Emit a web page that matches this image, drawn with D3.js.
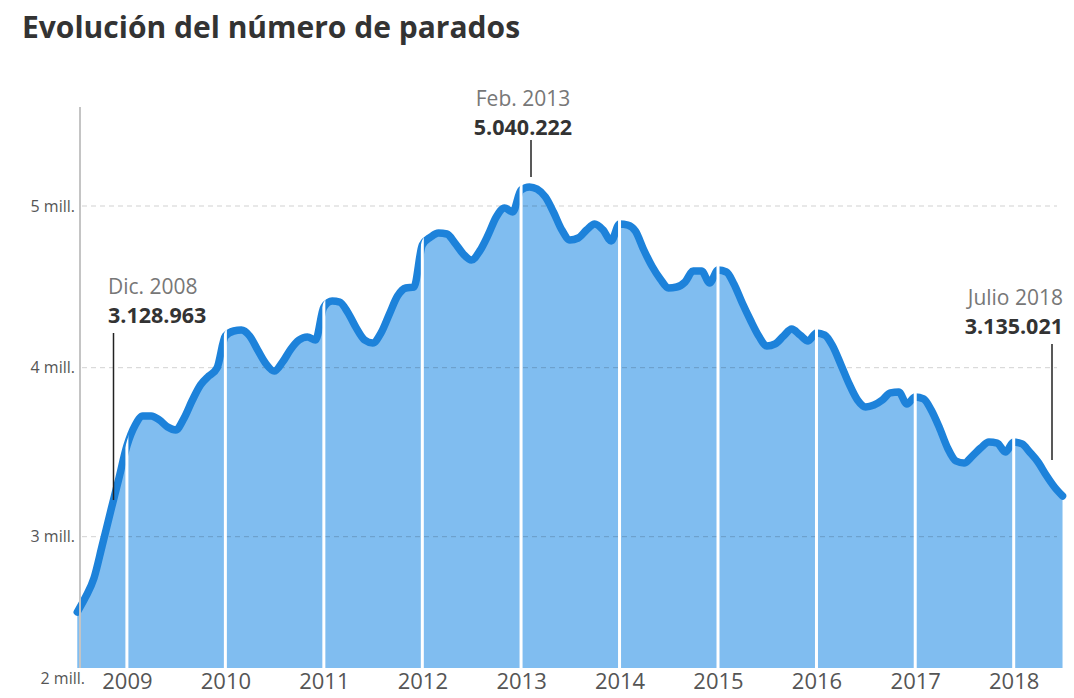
<!DOCTYPE html>
<html><head><meta charset="utf-8">
<script src="https://cdn.jsdelivr.net/npm/d3@7"></script>
<style>
body{margin:0;background:#fff;}
svg{display:block;font-family:"Open Sans",sans-serif;}
</style>
</head><body>
<svg id="chart" width="1074" height="698"></svg>
<script>
// ---------------- data ----------------
const title = "Evolución del número de parados";
const firstMonth = "2008-07";              // first monthly observation
// registered unemployed, millions, read from the picture (Jul 2008 – Jul 2018)
const values2008 = [2.426, 2.541, 2.685, 2.929, 3.146, 3.336];
const values2009 = [3.537, 3.661, 3.714, 3.714, 3.691, 3.649, 3.631, 3.702, 3.809, 3.898, 3.951, 3.998];
const values2010 = [4.196, 4.227, 4.233, 4.196, 4.109, 4.023, 3.980, 4.035, 4.116, 4.171, 4.190, 4.171];
const values2011 = [4.375, 4.412, 4.406, 4.338, 4.246, 4.171, 4.153, 4.215, 4.332, 4.443, 4.493, 4.499];
const values2012 = [4.759, 4.808, 4.833, 4.827, 4.771, 4.703, 4.666, 4.722, 4.821, 4.932, 4.988, 4.963];
const values2013 = [5.099, 5.118, 5.105, 5.056, 4.963, 4.852, 4.790, 4.802, 4.852, 4.889, 4.852, 4.784];
const values2014 = [4.889, 4.882, 4.845, 4.728, 4.629, 4.549, 4.493, 4.499, 4.530, 4.598, 4.598, 4.524];
const values2015 = [4.604, 4.592, 4.518, 4.400, 4.295, 4.196, 4.134, 4.147, 4.196, 4.239, 4.202, 4.165];
const values2016 = [4.215, 4.202, 4.134, 4.017, 3.904, 3.809, 3.768, 3.779, 3.809, 3.851, 3.856, 3.785];
const values2017 = [3.827, 3.815, 3.750, 3.643, 3.525, 3.448, 3.436, 3.478, 3.525, 3.560, 3.554, 3.501];
const values2018 = [3.560, 3.549, 3.501, 3.442, 3.365, 3.294, 3.241];

const yTickValues = [2, 3, 4, 5];           // millions
const gridValues = [3, 4, 5];
const yearTicks = [2009, 2010, 2011, 2012, 2013, 2014, 2015, 2016, 2017, 2018];

const annotMonths = ["2008-12", "2013-02", "2018-07"];
const annotLabels = ["Dic. 2008", "Feb. 2013", "Julio 2018"];
const annotValues = ["3.128.963", "5.040.222", "3.135.021"];

// ---------------- build ----------------
const allValues = [].concat(values2008, values2009, values2010, values2011, values2012,
  values2013, values2014, values2015, values2016, values2017, values2018);
const parse = d3.timeParse("%Y-%m");
const start = parse(firstMonth);
const data = allValues.map((v, i) => ({ date: d3.timeMonth.offset(start, i), value: v * 1e6 }));

const svg = d3.select("#chart");

const x = d3.scaleTime()
  .domain([new Date(2009, 0, 1), new Date(2018, 0, 1)])
  .range([126.9, 1013.7]);
const y = d3.scaleLinear()
  .domain([2e6, 3e6, 4e6, 5e6, 6e6])
  .range([668, 536.7, 367.7, 206, 44.3]);

// title
svg.append("text")
  .attr("x", 22).attr("y", 38)
  .attr("font-size", 30).attr("font-weight", 700)
  .attr("fill", "#333")
  .text(title);

const curve = d3.curveMonotoneX;
const area = d3.area().curve(curve)
  .x(d => x(d.date)).y0(y(2e6)).y1(d => y(d.value));
const line = d3.line().curve(curve)
  .x(d => x(d.date)).y(d => y(d.value));

// clip for the white year separators (area + line thickness)
svg.append("clipPath").attr("id", "sepClip")
  .append("path")
  .attr("d", d3.area().curve(curve).x(d => x(d.date)).y0(y(2e6)).y1(d => y(d.value) - 5)(data));

svg.append("path").datum(data)
  .attr("d", area)
  .attr("fill", "#80bdf0");

// gridlines
svg.append("g").selectAll("line").data(gridValues).join("line")
  .attr("x1", 82).attr("x2", 1057)
  .attr("y1", d => y(d * 1e6)).attr("y2", d => y(d * 1e6))
  .attr("stroke", "#000").attr("stroke-opacity", 0.18)
  .attr("stroke-width", 1).attr("stroke-dasharray", "5,4");

// line
svg.append("path").datum(data)
  .attr("d", line)
  .attr("fill", "none")
  .attr("stroke", "#1d82da")
  .attr("stroke-width", 7.5)
  .attr("stroke-linejoin", "round")
  .attr("stroke-linecap", "round");

// white year separators
svg.append("g").attr("clip-path", "url(#sepClip)")
  .selectAll("line").data(yearTicks).join("line")
  .attr("x1", d => x(new Date(d, 0, 1))).attr("x2", d => x(new Date(d, 0, 1)))
  .attr("y1", y(2e6)).attr("y2", 0)
  .attr("stroke", "#fff").attr("stroke-width", 3);

// y axis
const yAxis = svg.append("g").attr("transform", "translate(80,0)")
  .call(d3.axisLeft(y).tickValues(yTickValues.map(v => v * 1e6))
    .tickFormat(d => (d / 1e6) + " mill.").tickSize(0).tickPadding(5));
yAxis.select(".domain").remove();
yAxis.selectAll("text")
  .attr("font-family", "'Open Sans', sans-serif")
  .attr("font-size", 16).attr("fill", "#555");
yAxis.selectAll(".tick").filter(d => d === 2e6).select("text")
  .attr("x", 5).attr("dy", 0).attr("y", 15);

svg.append("line")
  .attr("x1", 80).attr("x2", 80).attr("y1", 107).attr("y2", y(2e6))
  .attr("stroke", "#c4c4c4").attr("stroke-width", 2);

// x axis
const xAxis = svg.append("g").attr("transform", `translate(0,${y(2e6)})`)
  .call(d3.axisBottom(x).tickValues(yearTicks.map(yr => new Date(yr, 0, 1)))
    .tickFormat(d3.timeFormat("%Y")).tickSize(0).tickPadding(5.5));
xAxis.select(".domain").remove();
xAxis.selectAll("text")
  .attr("font-family", "'Open Sans', sans-serif")
  .attr("font-size", 22).attr("fill", "#555");

// annotations
const annotLayout = [
  { tx: 108, anchor: "start", ty: 294, lx: 113.5, l1: 333, l2: 500 },
  { tx: 523, anchor: "middle", ty: 106, lx: 531, l1: 140, l2: 177 },
  { tx: 1063, anchor: "end", ty: 305, lx: 1052, l1: 344, l2: 460 }
];
const annG = svg.append("g").selectAll("g").data(annotMonths).join("g");
annG.append("text")
  .attr("x", (d, i) => annotLayout[i].tx).attr("y", (d, i) => annotLayout[i].ty)
  .attr("text-anchor", (d, i) => annotLayout[i].anchor)
  .attr("font-size", 21).attr("fill", "#777")
  .text((d, i) => annotLabels[i]);
annG.append("text")
  .attr("x", (d, i) => annotLayout[i].tx).attr("y", (d, i) => annotLayout[i].ty + 29)
  .attr("text-anchor", (d, i) => annotLayout[i].anchor)
  .attr("font-size", 21.5).attr("font-weight", 700).attr("fill", "#333")
  .text((d, i) => annotValues[i]);
annG.append("line")
  .attr("x1", (d, i) => annotLayout[i].lx).attr("x2", (d, i) => annotLayout[i].lx)
  .attr("y1", (d, i) => annotLayout[i].l1).attr("y2", (d, i) => annotLayout[i].l2)
  .attr("stroke", "#222").attr("stroke-width", 1.5);
</script>
</body></html>
